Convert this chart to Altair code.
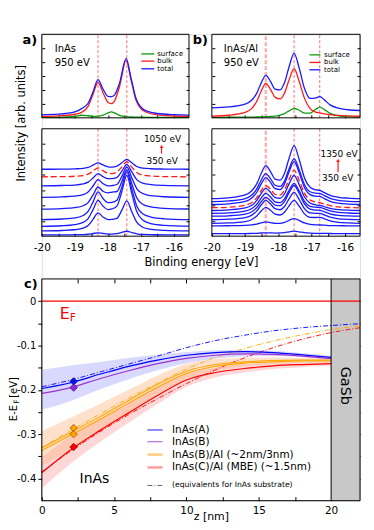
import altair as alt
import pandas as pd

FONT = "DejaVu Sans"

# ======================= DATA =======================
# a) InAs, 950 eV: fit components (intensity in % of panel height)
E_A_TOP = [-20.0, -19.5, -19.0, -18.8, -18.6, -18.45, -18.3, -18.15, -18.0, -17.9,
           -17.8, -17.65, -17.45, -17.3, -17.15, -17.0, -16.8, -16.5, -16.0, -15.55]
A_SURFACE = [0.5, 0.6, 1.6, 3.1, 2.5, 1.8, 2.0, 3.2, 5.9, 7.1, 5.9, 3.0, 1.4, 1.0, 0.85, 0.75, 0.65, 0.6, 0.55, 0.5]
A_BULK = [1.7, 2.35, 4.3, 6.6, 13.8, 28.2, 42.5, 30.1, 18.6, 17.0, 20.4, 37.4, 68.8, 45.1, 21.0, 10.9, 6.1, 3.6, 2.2, 1.7]
A_TOTAL = [3.6, 4.35, 7.2, 11.0, 17.5, 31.2, 45.7, 34.5, 25.7, 25.3, 27.5, 41.6, 71.2, 47.1, 22.9, 12.7, 7.8, 5.2, 3.75, 3.2]

# a) lower: photon-energy series (1050 eV top ... 350 eV bottom); A_S2 is the dashed 950 eV curve
E_A_BOT = [-20.0, -19.4, -19.0, -18.75, -18.6, -18.45, -18.3, -18.15, -18.0, -17.88,
           -17.73, -17.58, -17.43, -17.28, -17.13, -16.95, -16.7, -16.3, -15.55]
A_S1 = [62.3, 62.4, 62.7, 63.1, 64.0, 66.1, 68.2, 66.3, 64.6, 64.3, 65.3, 68.4, 71.5, 68.3, 64.9, 63.4, 62.8, 62.5, 62.3]
A_S2 = [55.3, 55.4, 55.8, 56.4, 57.7, 60.6, 63.6, 61.0, 58.6, 58.3, 59.8, 64.5, 69.3, 64.3, 59.3, 56.9, 56.0, 55.5, 55.3]
A_S3 = [46.9, 47.2, 47.6, 48.6, 50.3, 54.2, 58.2, 55.4, 53.5, 53.5, 54.7, 60.5, 66.9, 59.8, 52.7, 49.3, 48.0, 47.3, 46.9]
A_S4 = [36.2, 36.6, 37.3, 38.6, 41.1, 46.7, 52.6, 48.9, 46.8, 47.1, 48.1, 55.7, 64.4, 54.3, 44.3, 39.7, 37.7, 36.7, 36.2]
A_S5 = [25.2, 25.7, 26.6, 28.3, 31.3, 38.4, 45.8, 41.8, 40.3, 41.1, 41.6, 50.9, 61.8, 48.8, 35.8, 29.7, 27.2, 25.9, 25.3]
A_S6 = [15.4, 16.0, 17.0, 19.2, 23.0, 31.9, 41.2, 35.1, 31.2, 31.5, 33.5, 45.9, 59.8, 44.0, 28.2, 20.8, 17.8, 16.2, 15.4]
A_S7 = [9.2, 9.7, 10.8, 12.8, 16.4, 24.7, 33.4, 28.0, 24.8, 25.4, 28.0, 41.6, 56.7, 39.8, 22.9, 15.0, 11.7, 10.1, 9.3]
A_S8 = [4.9, 5.3, 6.0, 7.4, 9.9, 15.7, 21.7, 17.8, 15.5, 15.7, 16.6, 24.2, 32.8, 22.8, 13.0, 8.3, 6.4, 5.4, 4.9]
A_S9 = [1.2, 1.25, 1.35, 1.5, 1.8, 2.5, 3.1, 2.55, 2.0, 1.95, 2.3, 3.45, 4.6, 3.4, 2.2, 1.6, 1.4, 1.3, 1.25]

# b) InAs/Al, 950 eV fit
E_B = [-20.0, -19.5, -19.0, -18.8, -18.65, -18.52, -18.38, -18.24, -18.1, -17.95, -17.82, -17.68,
       -17.53, -17.38, -17.22, -17.05, -16.9, -16.76, -16.62, -16.45, -16.2, -15.9, -15.55]
B_SURFACE = [0.6, 0.7, 0.85, 0.95, 1.0, 1.15, 1.35, 1.6, 2.1, 3.2, 5.1, 8.4, 11.2, 9.1, 5.6, 5.6, 9.6, 12.8, 9.9, 5.3, 2.4, 1.4, 1.0]
B_BULK = [2.1, 3.1, 6.5, 11.4, 19.9, 31.9, 41.2, 34.1, 24.5, 22.6, 29.4, 45.6, 58.9, 44.0, 23.6, 11.0, 7.2, 5.9, 4.7, 3.8, 2.9, 2.3, 1.9]
B_TOTAL = [12.0, 13.0, 16.4, 21.3, 29.6, 41.6, 50.9, 43.7, 34.4, 33.4, 41.9, 61.2, 77.2, 60.0, 35.5, 23.4, 23.6, 25.5, 21.5, 15.5, 11.5, 9.7, 8.8]

# b) lower: photon-energy series (1350 eV top ... 350 eV bottom); B_S4 is the dashed curve
B_S1 = [34.9, 35.7, 38.4, 42.3, 48.9, 58.3, 65.7, 60.2, 53.1, 52.1, 58.3, 72.6, 84.3, 71.6, 54.4, 45.6, 43.4, 42.6, 40.5, 38.0, 36.2, 35.4, 34.9]
B_S2 = [32.1, 32.8, 35.0, 38.3, 44.1, 52.1, 58.3, 53.6, 47.4, 46.3, 51.3, 62.8, 72.3, 62.0, 48.2, 41.4, 40.1, 39.8, 37.8, 35.2, 33.3, 32.5, 32.1]
B_S3 = [29.5, 30.1, 32.3, 35.5, 40.9, 48.5, 54.6, 50.1, 44.2, 43.4, 48.5, 60.0, 69.4, 59.3, 45.4, 38.7, 37.3, 37.0, 35.0, 32.5, 30.7, 29.9, 29.5]
B_S4 = [26.5, 27.0, 28.8, 31.4, 35.9, 42.3, 47.2, 43.7, 38.9, 38.4, 42.9, 53.0, 61.2, 52.3, 40.1, 33.7, 31.9, 31.2, 29.9, 28.4, 27.3, 26.7, 26.4]
B_S5 = [23.9, 24.5, 26.3, 28.8, 33.3, 39.6, 44.5, 40.9, 36.0, 35.3, 39.5, 48.9, 56.5, 48.2, 36.7, 30.9, 29.3, 28.7, 27.4, 25.9, 24.7, 24.2, 23.9]
B_S6 = [21.3, 21.7, 23.3, 25.7, 29.7, 35.4, 39.8, 36.5, 32.0, 31.2, 34.7, 42.7, 49.2, 42.2, 32.5, 27.8, 27.0, 26.9, 25.4, 23.5, 22.1, 21.6, 21.3]
B_S7 = [18.6, 19.0, 20.5, 22.8, 26.6, 31.9, 36.1, 33.0, 29.0, 28.5, 32.1, 40.5, 47.2, 40.0, 30.0, 25.2, 24.3, 24.1, 22.7, 20.8, 19.4, 18.9, 18.6]
B_S8 = [15.3, 15.8, 17.3, 19.6, 23.5, 29.0, 33.3, 30.0, 25.6, 24.6, 27.6, 34.8, 40.7, 34.3, 25.7, 21.6, 21.2, 21.3, 19.8, 17.7, 16.2, 15.6, 15.4]
B_S9 = [12.0, 12.3, 13.6, 15.5, 18.8, 23.4, 26.9, 24.2, 20.5, 19.7, 22.3, 28.3, 33.3, 28.0, 20.8, 17.5, 17.4, 17.6, 16.2, 14.2, 12.8, 12.3, 12.0]
B_S10 = [9.6, 9.7, 10.0, 10.5, 11.3, 12.4, 13.3, 12.7, 11.9, 11.9, 12.8, 14.8, 16.4, 14.7, 12.3, 11.0, 10.5, 10.4, 10.2, 9.9, 9.8, 9.65, 9.6]
B_S11 = [2.35, 2.35, 2.45, 2.55, 2.7, 2.95, 3.15, 3.05, 2.9, 3.0, 3.4, 4.1, 4.65, 4.05, 3.25, 2.85, 2.7, 2.7, 2.6, 2.5, 2.4, 2.35, 2.35]

A_PEAKS = [-18.3, -17.43]
B_PEAKS = [-17.53, -16.76]
B_PEAK_WIDE = [-18.38]

# c) band profiles E - E_F [eV] vs depth z [nm]
Z = [0, 2, 4, 6, 8, 10, 12, 14, 16, 18, 20]
C_A = [-0.197, -0.184, -0.165, -0.147, -0.133, -0.122, -0.116, -0.114, -0.116, -0.121, -0.127]
C_B = [-0.208, -0.195, -0.175, -0.157, -0.141, -0.129, -0.122, -0.119, -0.120, -0.124, -0.130]
C_BAL_2 = [-0.331, -0.296, -0.261, -0.224, -0.188, -0.158, -0.143, -0.137, -0.134, -0.133, -0.133]
C_BAL_3 = [-0.337, -0.302, -0.267, -0.230, -0.194, -0.163, -0.147, -0.140, -0.137, -0.135, -0.135]
C_CAL = [-0.387, -0.335, -0.292, -0.252, -0.213, -0.178, -0.161, -0.152, -0.146, -0.143, -0.141]
BAND_A_LO = [-0.245, -0.225, -0.199, -0.176, -0.156, -0.140, -0.130, -0.125, -0.124, -0.126, -0.131]
BAND_A_HI = [-0.155, -0.145, -0.137, -0.128, -0.121, -0.115, -0.111, -0.110, -0.112, -0.117, -0.123]
BAND_BAL_LO = [-0.373, -0.333, -0.294, -0.254, -0.212, -0.176, -0.157, -0.147, -0.142, -0.139, -0.138]
BAND_BAL_HI = [-0.293, -0.263, -0.232, -0.200, -0.168, -0.142, -0.131, -0.128, -0.127, -0.128, -0.129]
BAND_CAL_LO = [-0.422, -0.366, -0.318, -0.274, -0.232, -0.193, -0.172, -0.161, -0.153, -0.149, -0.146]
BAND_CAL_HI = [-0.352, -0.304, -0.266, -0.230, -0.194, -0.163, -0.150, -0.143, -0.139, -0.137, -0.136]
Z_EQ = [0, 2, 4, 6, 8, 10, 12, 14, 16, 18, 20, 22]
EQ_A = [-0.193, -0.178, -0.160, -0.142, -0.124, -0.105, -0.089, -0.077, -0.067, -0.060, -0.055, -0.051]
EQ_BAL = [-0.330, -0.292, -0.255, -0.219, -0.185, -0.153, -0.127, -0.107, -0.090, -0.076, -0.064, -0.056]
EQ_CAL = [-0.385, -0.338, -0.295, -0.256, -0.220, -0.186, -0.155, -0.128, -0.105, -0.086, -0.071, -0.060]
Z_DIAM = [2.2, 2.2, 2.2, 2.2, 2.2]
E_DIAM = [-0.181, -0.195, -0.286, -0.300, -0.329]
LEGEND_C = ["InAs(A)", "InAs(B)", "InAs(B)/Al (~2nm/3nm)", "InAs(C)/Al (MBE) (~1.5nm)"]

# ======================= LAYOUT / STYLE =======================
W, H = 320, 469
TS = 3
PX = {"a": [0, 148], "b": [171, 320]}
PY = {"top": [84, 0], "bot": [203, 95]}
XDOM = [-20, -15.55]
BLUE, RED, GREEN = "#1a1aff", "#ff1a1a", "#0c9c0c"
VRED, VPINK = "#ff4d4d", "#ffb0b0"


def sx(col):
    return alt.Scale(domain=XDOM, range=PX[col], nice=False, zero=False)


def sy(row):
    return alt.Scale(domain=[0, 100], range=PY[row], nice=False, zero=False)


SXC = alt.Scale(domain=[0, 22], range=[0, W], nice=False, zero=False)
SYC = alt.Scale(domain=[-0.45, 0.05], range=[H, 246], nice=False, zero=False)


def df_line(xv, yv):
    return pd.DataFrame({"x": xv, "y": yv})


def df_multi(xv, series):
    rows = []
    for k, s in enumerate(series):
        for xx, yy in zip(xv, s):
            rows.append({"x": xx, "y": yy, "k": k})
    return pd.DataFrame(rows)


def line(df, xs, ys, color, width=1.3, dash=None, detail=False, interp="monotone"):
    kw = dict(color=color, strokeWidth=width, interpolate=interp)
    if dash is not None:
        kw["strokeDash"] = dash
    enc = dict(x=alt.X("x:Q", scale=xs, axis=None), y=alt.Y("y:Q", scale=ys, axis=None))
    if detail:
        enc["detail"] = "k:N"
    return alt.Chart(df).mark_line(**kw).encode(**enc)


def vlines(pos, xs, ys, color, width, dash):
    df = pd.DataFrame({"x": pos, "y1": [0] * len(pos), "y2": [100] * len(pos)})
    return alt.Chart(df).mark_rule(color=color, strokeWidth=width, strokeDash=dash).encode(
        x=alt.X("x:Q", scale=xs, axis=None), y=alt.Y("y1:Q", scale=ys, axis=None), y2="y2:Q")


def ax(orient, offset, values, size=TS, labels=False, **kw):
    d = dict(orient=orient, offset=offset, values=values, tickSize=size, tickColor="black",
             tickWidth=1, domain=False, grid=False, labels=labels, title=None)
    if labels:
        d.update(labelFont=FONT, labelFontSize=10.5, labelColor="black", labelFlush=False,
                 labelOverlap=False)
    d.update(kw)
    return alt.Axis(**d)


def frame(xs, ys, xd, yd, bottom, left, right, top=None):
    df = pd.DataFrame({"x1": [xd[0]], "x2": [xd[1]], "y1": [yd[0]], "y2": [yd[1]]})
    f1 = alt.Chart(df).mark_rect(fillOpacity=0, stroke="black", strokeWidth=1).encode(
        x=alt.X("x1:Q", scale=xs, axis=bottom), x2="x2:Q",
        y=alt.Y("y1:Q", scale=ys, axis=left), y2="y2:Q")
    f2 = alt.Chart(df).mark_rect(fillOpacity=0, strokeOpacity=0).encode(
        x=alt.X("x1:Q", scale=xs, axis=top), x2="x2:Q",
        y=alt.Y("y1:Q", scale=ys, axis=right), y2="y2:Q")
    return [f1, f2]


def dtext(df, xs, ys, size, color="black", align="left", angle=0, weight="normal"):
    return alt.Chart(df).mark_text(font=FONT, fontSize=size, color=color, align=align,
                                   baseline="middle", angle=angle, fontWeight=weight).encode(
        x=alt.X("x:Q", scale=xs, axis=None), y=alt.Y("y:Q", scale=ys, axis=None), text="t:N")


def ptext(t, x, y, size, angle=0, weight="normal", color="black", align="center"):
    return alt.Chart(pd.DataFrame({"t": [t]})).mark_text(
        font=FONT, fontSize=size, angle=angle, fontWeight=weight, color=color, align=align,
        baseline="middle").encode(x=alt.value(x), y=alt.value(y), text="t:N")


XT_TOP = [-19.5, -19.0, -18.5, -18.0, -17.5, -17.0, -16.5, -16.0]
XT_BOT = [-20.0] + XT_TOP
YT_TOP = [16.67, 33.33, 50.0, 66.67, 83.33]
YT_BOT = [14.29, 28.57, 42.86, 57.14, 71.43, 85.71]
XLAB = "datum.value % 1 == 0 ? '-' + format(-datum.value, 'd') : ''"

frames = []

# ---------------- panels a/b frames & axes ----------------
for col in ["a", "b"]:
    x0, x1 = PX[col]
    for row in ["top", "bot"]:
        yb, yt = PY[row]
        xs, ys = sx(col), sy(row)
        if row == "top":
            bottom = ax("bottom", yb - H - TS, XT_TOP)
        else:
            extra = {}
            if col == "a":
                extra = dict(title="Binding energy [eV]", titleX=160, titleY=29,
                             titleBaseline="middle", titleFont=FONT, titleFontSize=11.5,
                             titleFontWeight="normal", titleColor="black")
            bottom = ax("bottom", yb - H - TS, XT_BOT, labels=True, labelExpr=XLAB,
                        labelPadding=6, **extra)
        yv = YT_TOP if row == "top" else YT_BOT
        lextra = {}
        if col == "a" and row == "bot":
            lextra = dict(title="Intensity [arb. units]", titleX=-23, titleY=89,
                          titleAngle=270, titleBaseline="middle", titleAlign="center",
                          titleFont=FONT, titleFontSize=11.5, titleFontWeight="normal",
                          titleColor="black")
        left = ax("left", -(x0 + TS), yv, **lextra)
        right = ax("right", x1 - TS - W, yv)
        frames.extend(frame(xs, ys, XDOM, [0, 100], bottom, left, right))

layers = []

# panel a top
xs, ys = sx("a"), sy("top")
layers.append(vlines(A_PEAKS, xs, ys, VRED, 0.8, [3, 2]))
layers.append(line(df_line(E_A_TOP, A_SURFACE), xs, ys, GREEN))
layers.append(line(df_line(E_A_TOP, A_BULK), xs, ys, RED))
layers.append(line(df_line(E_A_TOP, A_TOTAL), xs, ys, BLUE))
layers.append(dtext(pd.DataFrame({"x": [-19.61, -19.61], "y": [82.7, 66.0], "t": ["InAs", "950 eV"]}),
                    xs, ys, 10))
leg = pd.DataFrame({"x1": [-16.99] * 3, "x2": [-16.60] * 3, "y": [76.5, 67.9, 58.7],
                    "c": [GREEN, RED, BLUE]})
layers.append(alt.Chart(leg).mark_rule(strokeWidth=1.3).encode(
    x=alt.X("x1:Q", scale=xs, axis=None), x2="x2:Q", y=alt.Y("y:Q", scale=ys, axis=None),
    color=alt.Color("c:N", scale=None)))
layers.append(dtext(pd.DataFrame({"x": [-16.51] * 3, "y": [76.5, 67.9, 58.7],
                                  "t": ["surface", "bulk", "total"]}), xs, ys, 7))

# panel a bottom
xs, ys = sx("a"), sy("bot")
layers.append(vlines(A_PEAKS, xs, ys, VRED, 0.8, [3, 2]))
layers.append(line(df_multi(E_A_BOT, [A_S1, A_S3, A_S4, A_S5, A_S6, A_S7, A_S8, A_S9]), xs, ys,
                   BLUE, detail=True))
layers.append(line(df_line(E_A_BOT, A_S2), xs, ys, RED, dash=[6, 3]))
layers.append(dtext(pd.DataFrame({"x": [-16.35, -16.36], "y": [90.5, 69.7], "t": ["1050 eV", "350 eV"]}),
                    xs, ys, 9, align="center"))
arr = pd.DataFrame({"x": [-16.38], "y1": [76.9], "y2": [82.5]})
layers.append(alt.Chart(arr).mark_rule(color=RED, strokeWidth=1.2).encode(
    x=alt.X("x:Q", scale=xs, axis=None), y=alt.Y("y1:Q", scale=ys, axis=None), y2="y2:Q"))
layers.append(alt.Chart(pd.DataFrame({"x": [-16.38], "y": [83.5]})).mark_point(
    shape="triangle-up", filled=True, size=14, color=RED, opacity=1).encode(
    x=alt.X("x:Q", scale=xs, axis=None), y=alt.Y("y:Q", scale=ys, axis=None)))

# panel b top
xs, ys = sx("b"), sy("top")
layers.append(vlines(B_PEAK_WIDE, xs, ys, VPINK, 2.5, [4, 2]))
layers.append(vlines(B_PEAKS, xs, ys, VRED, 0.8, [3, 2]))
layers.append(line(df_line(E_B, B_SURFACE), xs, ys, GREEN))
layers.append(line(df_line(E_B, B_BULK), xs, ys, RED))
layers.append(line(df_line(E_B, B_TOTAL), xs, ys, BLUE))
layers.append(dtext(pd.DataFrame({"x": [-19.64, -19.64], "y": [82.7, 66.0], "t": ["InAs/Al", "950 eV"]}),
                    xs, ys, 10))
leg = pd.DataFrame({"x1": [-17.07] * 3, "x2": [-16.74] * 3, "y": [75.4, 66.3, 57.5],
                    "c": [GREEN, RED, BLUE]})
layers.append(alt.Chart(leg).mark_rule(strokeWidth=1.3).encode(
    x=alt.X("x1:Q", scale=xs, axis=None), x2="x2:Q", y=alt.Y("y:Q", scale=ys, axis=None),
    color=alt.Color("c:N", scale=None)))
layers.append(dtext(pd.DataFrame({"x": [-16.63] * 3, "y": [75.4, 66.3, 57.5],
                                  "t": ["surface", "bulk", "total"]}), xs, ys, 7))

# panel b bottom
xs, ys = sx("b"), sy("bot")
layers.append(vlines(B_PEAK_WIDE, xs, ys, VPINK, 2.5, [4, 2]))
layers.append(vlines(B_PEAKS, xs, ys, VRED, 0.8, [3, 2]))
layers.append(line(df_multi(E_B, [B_S1, B_S2, B_S3, B_S5, B_S6, B_S7, B_S8, B_S9, B_S10, B_S11]),
                   xs, ys, BLUE, detail=True))
layers.append(line(df_line(E_B, B_S4), xs, ys, RED, dash=[6, 3]))
layers.append(dtext(pd.DataFrame({"x": [-16.18, -16.22], "y": [76.6, 54.4], "t": ["1350 eV", "350 eV"]}),
                    xs, ys, 9, align="center"))
arr = pd.DataFrame({"x": [-16.21], "y1": [59.5], "y2": [69.5]})
layers.append(alt.Chart(arr).mark_rule(color=RED, strokeWidth=1.2).encode(
    x=alt.X("x:Q", scale=xs, axis=None), y=alt.Y("y1:Q", scale=ys, axis=None), y2="y2:Q"))
layers.append(alt.Chart(pd.DataFrame({"x": [-16.21], "y": [70.5]})).mark_point(
    shape="triangle-up", filled=True, size=14, color=RED, opacity=1).encode(
    x=alt.X("x:Q", scale=xs, axis=None), y=alt.Y("y:Q", scale=ys, axis=None)))

layers.extend(frames)

# ---------------- panel c ----------------
gasb = pd.DataFrame({"x1": [20], "x2": [22], "y1": [-0.45], "y2": [0.05]})
layers.append(alt.Chart(gasb).mark_rect(color="#c8c8c8").encode(
    x=alt.X("x1:Q", scale=SXC, axis=None), x2="x2:Q", y=alt.Y("y1:Q", scale=SYC, axis=None), y2="y2:Q"))


def band(lo, hi, color, op):
    df = pd.DataFrame({"x": Z, "lo": lo, "hi": hi})
    return alt.Chart(df).mark_area(color=color, opacity=op, interpolate="monotone").encode(
        x=alt.X("x:Q", scale=SXC, axis=None), y=alt.Y("lo:Q", scale=SYC, axis=None), y2="hi:Q")


layers.append(band(BAND_A_LO, BAND_A_HI, "#aaaaff", 0.45))
layers.append(band(BAND_CAL_LO, BAND_CAL_HI, "#ff9a9a", 0.4))
layers.append(band(BAND_BAL_LO, BAND_BAL_HI, "#ffb27a", 0.4))

ef = pd.DataFrame({"x1": [0], "x2": [22], "y": [0.0]})
layers.append(alt.Chart(ef).mark_rule(color="#ff0000", strokeWidth=1.2).encode(
    x=alt.X("x1:Q", scale=SXC, axis=None), x2="x2:Q", y=alt.Y("y:Q", scale=SYC, axis=None)))

DD = [5, 2, 1, 2]
layers.append(line(df_line(Z_EQ, EQ_A), SXC, SYC, "#0000ff", width=0.9, dash=DD))
layers.append(line(df_line(Z_EQ, EQ_BAL), SXC, SYC, "#ffa500", width=0.9, dash=DD))
layers.append(line(df_line(Z_EQ, EQ_CAL), SXC, SYC, "#ff0000", width=0.9, dash=DD))
layers.append(line(df_line(Z, C_A), SXC, SYC, "#0000ff", width=1.2))
layers.append(line(df_line(Z, C_B), SXC, SYC, "#9a32cd", width=1.2))
layers.append(line(df_line(Z, C_BAL_2), SXC, SYC, "#ffa500", width=1.1))
layers.append(line(df_line(Z, C_BAL_3), SXC, SYC, "#ffa500", width=1.1))
layers.append(line(df_line(Z, C_CAL), SXC, SYC, "#ff0000", width=1.2))

diam = pd.DataFrame({"x": Z_DIAM, "y": E_DIAM,
                     "f": ["#1010ee", "#8a2be2", "#ffa500", "#ffa500", "#ff0000"],
                     "s": ["#00008b", "#4b0082", "#9a5a10", "#9a5a10", "#8b0000"]})
layers.append(alt.Chart(diam).mark_point(shape="diamond", filled=True, size=55, strokeWidth=0.8,
                                         opacity=1).encode(
    x=alt.X("x:Q", scale=SXC, axis=None), y=alt.Y("y:Q", scale=SYC, axis=None),
    fill=alt.Fill("f:N", scale=None), stroke=alt.Stroke("s:N", scale=None)))

edge = pd.DataFrame({"x": [20], "y1": [-0.45], "y2": [0.05]})
layers.append(alt.Chart(edge).mark_rule(color="black", strokeWidth=1).encode(
    x=alt.X("x:Q", scale=SXC, axis=None), y=alt.Y("y1:Q", scale=SYC, axis=None), y2="y2:Q"))

CY = [-0.4, -0.35, -0.3, -0.25, -0.2, -0.15, -0.1, -0.05, 0.0]
CX = [0, 2.5, 5, 7.5, 10, 12.5, 15, 17.5, 20]
c_bottom = ax("bottom", -4, CX, size=4, labels=True,
              labelExpr="datum.value % 5 == 0 ? format(datum.value, 'd') : ''", labelPadding=5,
              title="z [nm]", titleX=170, titleY=20, titleBaseline="middle", titleFont=FONT,
              titleFontSize=11, titleFontWeight="normal", titleColor="black")
c_left = ax("left", 0, CY, size=4, labels=True, labelPadding=2, labelFontSize=10,
            labelExpr="datum.value == 0 ? '0' : (round(datum.value * 20) % 2 == 0 ? '-' + format(-datum.value, '.1f') : '')")
c_right = ax("right", -4, CY, size=4)
c_top = ax("top", -(246 + 4), CX[1:-1], size=4)
layers.extend(frame(SXC, SYC, [0, 22], [-0.45, 0.05], c_bottom, c_left, c_right, c_top))

# in-plot texts of c
layers.append(dtext(pd.DataFrame({"x": [1.58], "y": [-0.029], "t": ["E"]}), SXC, SYC, 16,
                    color="#ff0000", align="center"))
layers.append(dtext(pd.DataFrame({"x": [2.15], "y": [-0.038], "t": ["F"]}), SXC, SYC, 10,
                    color="#ff0000", align="center"))
layers.append(dtext(pd.DataFrame({"x": [3.64], "y": [-0.400], "t": ["InAs"]}), SXC, SYC, 14,
                    align="center"))
layers.append(dtext(pd.DataFrame({"x": [20.95], "y": [-0.191], "t": ["GaSb"]}), SXC, SYC, 14.5,
                    align="center", angle=90))

LEG_Y = [-0.2905, -0.317, -0.346, -0.375]
legc = pd.DataFrame({"x1": [7.3] * 4, "x2": [8.35] * 4, "y": LEG_Y,
                     "c": ["#4d4dff", "#bb77dd", "#ffcc77", "#ff9c9c"], "w": [1.3, 1.3, 2.4, 2.4]})
layers.append(alt.Chart(legc).mark_rule().encode(
    x=alt.X("x1:Q", scale=SXC, axis=None), x2="x2:Q", y=alt.Y("y:Q", scale=SYC, axis=None),
    color=alt.Color("c:N", scale=None), strokeWidth=alt.StrokeWidth("w:Q", scale=None)))
layers.append(dtext(pd.DataFrame({"x": [9.0] * 4, "y": LEG_Y, "t": LEGEND_C}), SXC, SYC, 10.5))
legd = pd.DataFrame({"x1": [7.3], "x2": [8.35], "y": [-0.4156]})
layers.append(alt.Chart(legd).mark_rule(color="#555555", strokeWidth=0.9, strokeDash=DD).encode(
    x=alt.X("x1:Q", scale=SXC, axis=None), x2="x2:Q", y=alt.Y("y:Q", scale=SYC, axis=None)))
layers.append(dtext(pd.DataFrame({"x": [9.0], "y": [-0.4156], "t": ["(equivalents for InAs substrate)"]}),
                    SXC, SYC, 7.7))

# titles / panel letters (pixel positions in the plot group)
layers.append(ptext("a)", -12, 5.5, 13, weight="bold"))
layers.append(ptext("b)", 159.5, 5.5, 13, weight="bold"))
layers.append(ptext("c)", -11, 251, 13, weight="bold"))
layers.append(ptext("E-E", -28, 389, 10, angle=270, align="left"))
layers.append(ptext("F", -25, 371.5, 7.5, angle=270, align="left"))
layers.append(ptext("[eV]", -28, 365.5, 10, angle=270, align="left"))

chart = alt.layer(*layers).resolve_scale(x="independent", y="independent").properties(
    width=W, height=H,
    padding={"left": 34, "top": 25, "right": 6, "bottom": 26},
    autosize=alt.AutoSizeParams(type="none"),
).configure_view(strokeWidth=0).configure(font=FONT, background="white")

chart.save("out.html", embed_options={"renderer": "svg", "actions": False})
